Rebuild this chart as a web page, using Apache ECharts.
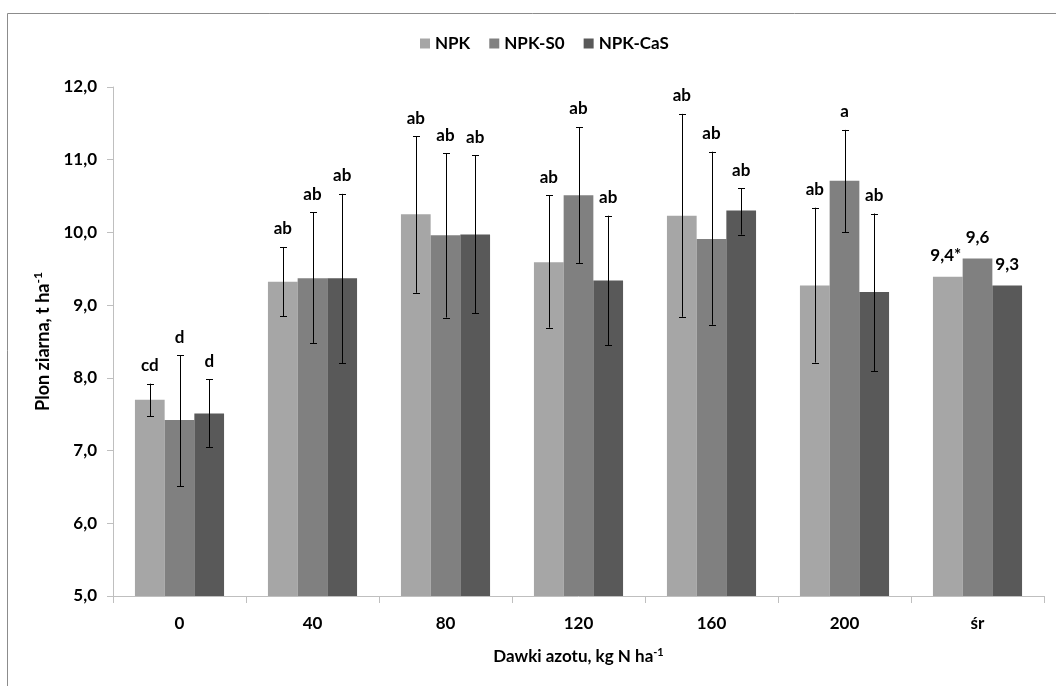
<!DOCTYPE html>
<html>
<head>
<meta charset="utf-8">
<script src="https://cdn.jsdelivr.net/npm/echarts@6/dist/echarts.min.js"></script>
<style>html,body{margin:0;padding:0;background:#fff;}#c{width:1056px;height:686px;}</style>
</head>
<body>
<div id="c"></div>
<script>
const categories = ['0', '40', '80', '120', '160', '200', 'śr'];
const seriesNames = ['NPK', 'NPK-S0', 'NPK-CaS'];
const npk    = [7.70, 9.32, 10.25, 9.59, 10.23, 9.27, 9.39];
const npkS0  = [7.42, 9.37, 9.96, 10.51, 9.91, 10.71, 9.64];
const npkCaS = [7.51, 9.37, 9.97, 9.34, 10.30, 9.18, 9.27];
const npkLow     = [7.47, 8.85, 9.17, 8.69, 8.84, 8.21, null];
const npkHigh    = [7.92, 9.80, 11.32, 10.51, 11.63, 10.34, null];
const npkS0Low   = [6.51, 8.48, 8.83, 9.58, 8.73, 10.00, null];
const npkS0High  = [8.31, 10.28, 11.09, 11.45, 11.11, 11.41, null];
const npkCaSLow  = [7.05, 8.20, 8.89, 8.45, 9.97, 8.09, null];
const npkCaSHigh = [7.98, 10.53, 11.06, 10.23, 10.61, 10.26, null];
const npkLabels    = ['cd', 'ab', 'ab', 'ab', 'ab', 'ab', '9,4*'];
const npkS0Labels  = ['d', 'ab', 'ab', 'ab', 'ab', 'a', '9,6'];
const npkCaSLabels = ['d', 'ab', 'ab', 'ab', 'ab', 'ab', '9,3'];
const yTicks = { min: 5, max: 12, interval: 1 };

const colors = ['#a6a6a6', '#808080', '#595959'];
const FONT = 'Lato, "Open Sans", sans-serif';
const CAT_GAP = 0.33;

const values = [npk, npkS0, npkCaS];
const lows = [npkLow, npkS0Low, npkCaSLow];
const highs = [npkHigh, npkS0High, npkCaSHigh];
const labels = [npkLabels, npkS0Labels, npkCaSLabels];

const barSeries = seriesNames.map((name, i) => ({
  name: name,
  type: 'bar',
  data: values[i],
  barGap: '0%',
  barCategoryGap: (CAT_GAP * 100) + '%',
  itemStyle: { color: colors[i] },
  z: 2
}));

const errSeries = seriesNames.map((name, si) => ({
  type: 'custom',
  name: name + '-err',
  z: 5,
  silent: true,
  data: categories.map((c, k) => [k, lows[si][k], highs[si][k], values[si][k], labels[si][k]]),
  renderItem: function (params, api) {
    const k = api.value(0);
    const low = lows[si][k];
    const high = highs[si][k];
    const val = values[si][k];
    const lab = labels[si][k];
    const band = api.size([1, 0])[0];
    const barW = band * (1 - CAT_GAP) / 3;
    const center = api.coord([k, val]);
    const x = center[0] + (si - 1) * barW;
    const children = [];
    const st = { stroke: '#000', lineWidth: 1 };
    let topY;
    if (low != null && high != null) {
      const yl = api.coord([k, low])[1];
      const yh = api.coord([k, high])[1];
      const cap = 3.5;
      const xr = Math.round(x) + 0.5;
      children.push({ type: 'line', shape: { x1: xr, y1: yh, x2: xr, y2: yl }, style: st });
      children.push({ type: 'line', shape: { x1: xr - cap, y1: Math.round(yh) + 0.5, x2: xr + cap, y2: Math.round(yh) + 0.5 }, style: st });
      children.push({ type: 'line', shape: { x1: xr - cap, y1: Math.round(yl) + 0.5, x2: xr + cap, y2: Math.round(yl) + 0.5 }, style: st });
      topY = yh - 18;
    } else {
      topY = center[1] - 21;
    }
    children.push({
      type: 'text',
      x: x - (lab.indexOf('*') >= 0 ? 2 : 0),
      y: topY,
      style: {
        text: lab,
        fill: '#000',
        font: 'bold 17px ' + FONT,
        align: 'center',
        verticalAlign: 'middle'
      }
    });
    return { type: 'group', children: children };
  }
}));

const chart = echarts.init(document.getElementById('c'), null, { renderer: 'canvas' });
chart.setOption({
  animation: false,
  backgroundColor: '#fff',
  graphic: [{
    type: 'rect',
    shape: { x: 7.5, y: 13.5, width: 1200, height: 800 },
    style: { fill: 'none', stroke: '#8c8c8c', lineWidth: 1 },
    silent: true,
    z: -10
  }],
  legend: {
    data: seriesNames,
    top: 35,
    left: 420,
    padding: 0,
    icon: 'rect',
    itemWidth: 10,
    itemHeight: 10,
    itemGap: 19,
    textStyle: { fontFamily: FONT, fontWeight: 'bold', fontSize: 17, color: '#000' }
  },
  grid: { left: 113, right: 12, top: 87, bottom: 90, containLabel: false },
  xAxis: {
    type: 'category',
    data: categories,
    axisLine: { lineStyle: { color: '#bfbfbf', width: 1 } },
    axisTick: { show: true, length: 7, alignWithLabel: false, lineStyle: { color: '#bfbfbf' } },
    axisLabel: { margin: 19, color: '#000', fontFamily: FONT, fontWeight: 'bold', fontSize: 17 },
    name: '{a|Dawki azotu, kg N ha}{s|-1}',
    nameLocation: 'middle',
    nameGap: 51,
    nameTextStyle: {
      rich: {
        a: { fontFamily: FONT, fontSize: 17, fontWeight: 'bold', color: '#000' },
        s: { fontFamily: FONT, fontSize: 11, fontWeight: 'bold', color: '#000', padding: [0, 0, 9, 0] }
      }
    }
  },
  yAxis: {
    type: 'value',
    min: yTicks.min,
    max: yTicks.max,
    interval: yTicks.interval,
    splitLine: { show: false },
    axisLine: { show: true, lineStyle: { color: '#bfbfbf', width: 1 } },
    axisTick: { show: true, length: 6, lineStyle: { color: '#bfbfbf' } },
    axisLabel: {
      margin: 16,
      color: '#000',
      fontFamily: FONT,
      fontWeight: 'bold',
      fontSize: 17,
      formatter: v => v.toFixed(1).replace('.', ',')
    },
    name: '{a|Plon ziarna, t ha}{s|-1}',
    nameLocation: 'middle',
    nameGap: 58,
    nameTextStyle: {
      rich: {
        a: { fontFamily: FONT, fontSize: 18, fontWeight: 'bold', color: '#000' },
        s: { fontFamily: FONT, fontSize: 12, fontWeight: 'bold', color: '#000', padding: [0, 0, 10, 0] }
      }
    }
  },
  series: barSeries.concat(errSeries)
});
</script>
</body>
</html>
